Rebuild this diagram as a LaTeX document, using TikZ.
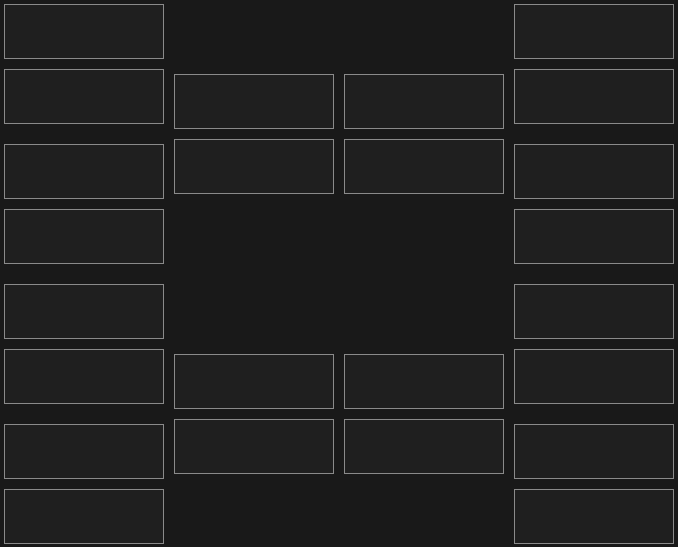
\documentclass[tikz,border=0pt]{standalone}
\usepackage{tikz}
\usetikzlibrary{positioning}
\definecolor{canvas}{HTML}{191919}
\definecolor{slotfill}{HTML}{1F1F1F}
\definecolor{slotline}{HTML}{8A8A8A}

\begin{document}
\begin{tikzpicture}[
  x=1pt, y=-1pt,
  slot/.style={rectangle, minimum width=159pt, minimum height=54pt, inner sep=0pt,
               outer sep=0pt, fill=slotfill, draw=slotline, line width=1pt},
]
  \fill[canvas] (0,0) rectangle (678,547);
  \useasboundingbox (0,0) rectangle (678,547);

  % left round
  \node[slot] (left1) at (84,31.5) {};
  \node[slot] (left2) at (84,96.5) {};
  \node[slot] (left3) at (84,171.5) {};
  \node[slot] (left4) at (84,236.5) {};
  \node[slot] (left5) at (84,311.5) {};
  \node[slot] (left6) at (84,376.5) {};
  \node[slot] (left7) at (84,451.5) {};
  \node[slot] (left8) at (84,516.5) {};

  % left semi
  \node[slot] (lsemi1) at (254,101.5) {};
  \node[slot] (lsemi2) at (254,166.5) {};
  \node[slot] (lsemi3) at (254,381.5) {};
  \node[slot] (lsemi4) at (254,446.5) {};

  % right semi
  \node[slot] (rsemi1) at (424,101.5) {};
  \node[slot] (rsemi2) at (424,166.5) {};
  \node[slot] (rsemi3) at (424,381.5) {};
  \node[slot] (rsemi4) at (424,446.5) {};

  % right round
  \node[slot] (right1) at (594,31.5) {};
  \node[slot] (right2) at (594,96.5) {};
  \node[slot] (right3) at (594,171.5) {};
  \node[slot] (right4) at (594,236.5) {};
  \node[slot] (right5) at (594,311.5) {};
  \node[slot] (right6) at (594,376.5) {};
  \node[slot] (right7) at (594,451.5) {};
  \node[slot] (right8) at (594,516.5) {};

\end{tikzpicture}
\end{document}
